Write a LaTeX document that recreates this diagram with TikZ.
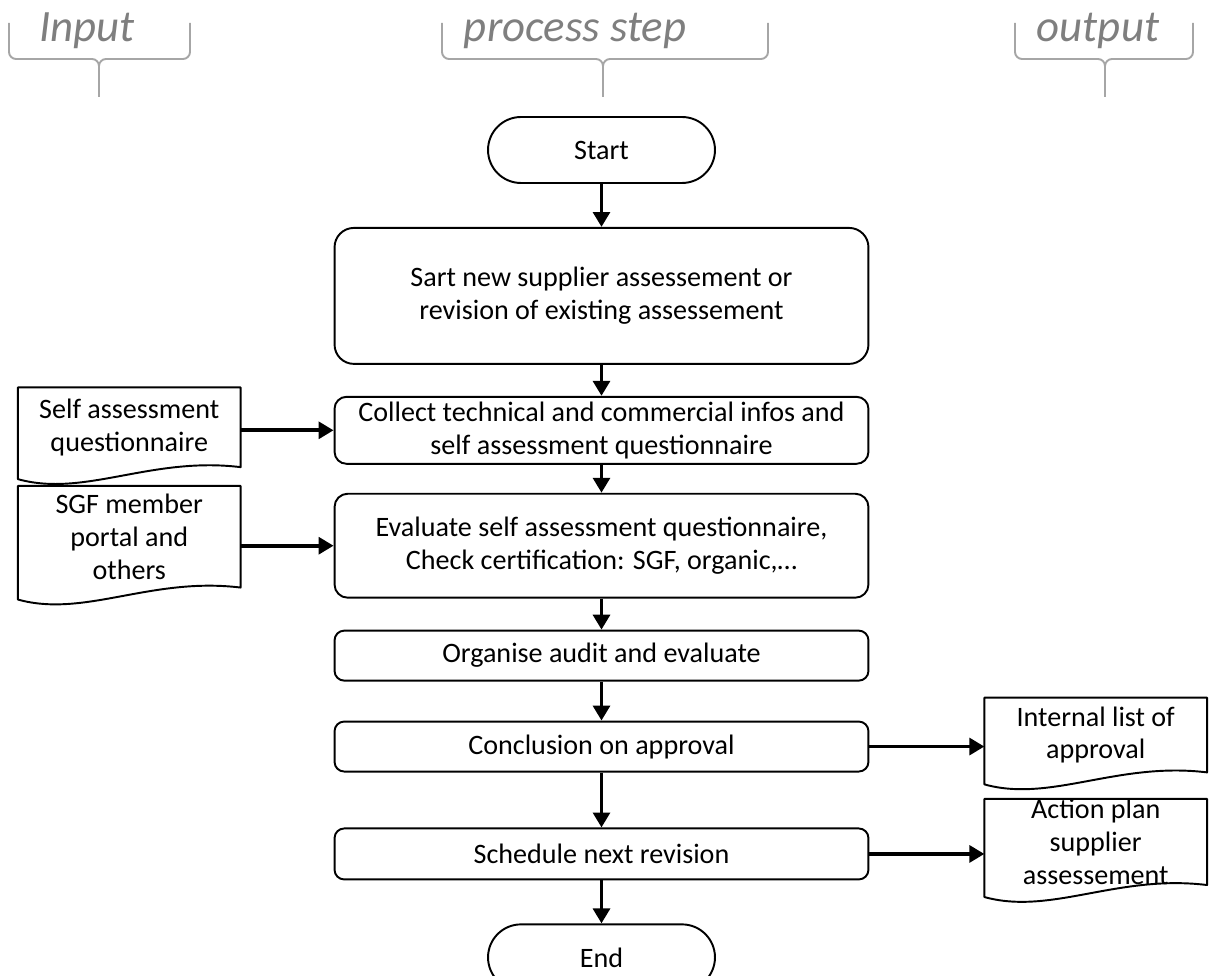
\documentclass[tikz,border=0pt]{standalone}
\usepackage{fontspec}
\setmainfont{Carlito}
\usetikzlibrary{arrows.meta, positioning}
\definecolor{headgray}{RGB}{127,127,127}
\definecolor{bracegray}{RGB}{166,166,166}

\begin{document}
\begin{tikzpicture}[
    x=0.02cm, y=-0.02cm,
    stepbox/.style={draw, line width=1.1pt, rounded corners=5.5pt, minimum width=10.68cm,
                    align=center, inner sep=2pt, font=\fontsize{16}{18.7}\selectfont},
    term/.style={draw, line width=1.1pt, rounded corners=0.66cm, minimum width=4.54cm,
                 minimum height=1.32cm, font=\fontsize{16}{18.7}\selectfont},
    docbox/.style={minimum width=4.44cm, align=center, inner sep=0pt,
                   font=\fontsize{16}{18.7}\selectfont},
    docline/.style={line width=1.1pt, line join=round},
    arrow/.style={-{Triangle[length=8.5pt, width=9.5pt]}, line width=2.2pt},
    brace/.style={bracegray, line width=1.1pt, rounded corners=4pt},
    head/.style={headgray, anchor=base, font=\fontsize{25.5}{30}\selectfont\itshape},
]
\useasboundingbox (0,0) rectangle (1211,976);

% column headers
\node[head] (inhead) at (87,42) {Input};
\node[head] (stephead) at (575,42) {process step};
\node[head] (outhead) at (1098,42) {output};
\foreach \a/\m/\b in {9/99/190, 442/603/768, 1015/1105/1193} {
  \draw[brace] (\a,23) -- (\a,59) -- (\m,59) -- (\m,97);
  \draw[brace] (\b,23) -- (\b,59) -- (\m,59) -- (\m,97);
}

% process steps
\node[term] (start) at (601.5,150) {Start};
\node[stepbox, minimum height=2.72cm, rounded corners=11pt, below=0.86cm of start] (newassess)
    {Sart new supplier assessement or\\revision of existing assessement};
\node[stepbox, minimum height=1.34cm, rounded corners=6.8pt, below=0.62cm of newassess] (collect)
    {Collect technical and commercial infos and\\self assessment questionnaire};
\node[stepbox, minimum height=2.08cm, rounded corners=7.5pt, below=0.56cm of collect] (evaluate)
    {Evaluate self assessment questionnaire,\\Check certification: SGF, organic,…};
\node[stepbox, minimum height=1.0cm, below=0.62cm of evaluate] (audit) {Organise audit and evaluate};
\node[stepbox, minimum height=1.0cm, below=0.78cm of audit] (conclude) {Conclusion on approval};
\node[stepbox, minimum height=1.02cm, below=1.1cm of conclude] (schedule) {Schedule next revision};
\node[term, below=0.86cm of schedule] (end) {End};

% inputs and outputs
\node[docbox, minimum height=1.58cm, left=1.86cm of collect, yshift=0.06cm] (selfq) {Self assessment\\questionnaire};
\node[docbox, minimum height=2.02cm, left=1.86cm of evaluate, yshift=0.18cm] (portal) {SGF member\\portal and\\others};
\node[docbox, minimum height=1.48cm, right=2.3cm of conclude, yshift=0.23cm] (intlist) {Internal list of\\approval};
\node[docbox, minimum height=1.7cm, right=2.3cm of schedule, yshift=0.24cm] (actplan) {Action plan\\supplier\\assessement};
\foreach \d in {selfq, portal, intlist, actplan}
  \draw[docline] ([yshift=-0.24cm]\d.south west)
    .. controls ([xshift=1.33cm, yshift=-0.61cm]\d.south west) and ([xshift=2.66cm, yshift=0.22cm]\d.south west)
    .. (\d.south east) -- (\d.north east) -- (\d.north west) -- cycle;

% connectors
\draw[arrow] (start.south) -- (newassess.north);
\draw[arrow] (newassess.south) -- (collect.north);
\draw[arrow] (collect.south) -- (evaluate.north);
\draw[arrow] (evaluate.south) -- (audit.north);
\draw[arrow] (audit.south) -- (conclude.north);
\draw[arrow] (conclude.south) -- (schedule.north);
\draw[arrow] (schedule.south) -- (end.north);
\draw[arrow] (selfq.east |- collect.west) -- (collect.west);
\draw[arrow] (portal.east |- evaluate.west) -- (evaluate.west);
\draw[arrow] (conclude.east) -- (conclude.east -| intlist.west);
\draw[arrow] (schedule.east) -- (schedule.east -| actplan.west);
\end{tikzpicture}
\end{document}
